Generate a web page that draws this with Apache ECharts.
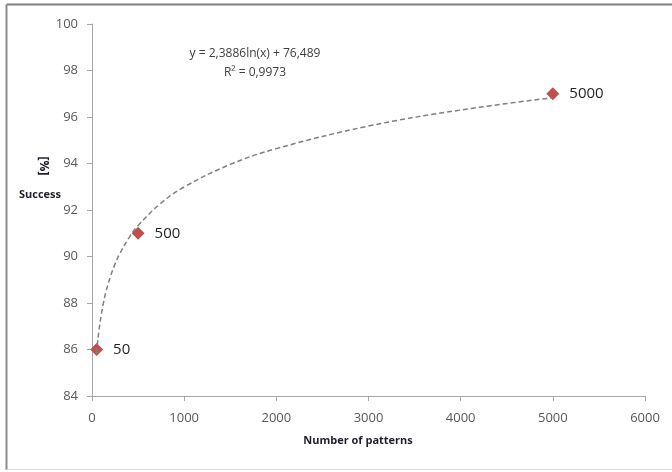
<!DOCTYPE html>
<html>
<head>
<meta charset="utf-8">
<script src="https://cdn.jsdelivr.net/npm/echarts@6/dist/echarts.min.js"></script>
<style>html,body{margin:0;padding:0;background:#fff}#c{width:672px;height:472px}</style>
</head>
<body>
<div id="c"></div>
<script>
// Data points (number of patterns, success %)
const patterns = [50, 500, 5000];
const success = [86, 91, 97];
const pointLabels = ['50', '500', '5000'];
// Trendline values (log trend)
const trendX = [50, 60, 75, 100, 125, 150, 200, 250, 300, 400, 500, 750, 1000, 1500, 2000, 3000, 4000, 5000];
const trendY = [85.83, 86.27, 86.80, 87.49, 88.02, 88.46, 89.14, 89.68, 90.11, 90.80, 91.33, 92.30, 92.99, 93.96, 94.64, 95.61, 96.30, 96.83];
const xTicks = [0, 1000, 2000, 3000, 4000, 5000, 6000];
const yTicks = [84, 86, 88, 90, 92, 94, 96, 98, 100];
const equationText = 'y = 2,3886ln(x) + 76,489';
const r2Text = 'R² = 0,9973';

const chart = echarts.init(document.getElementById('c'));
const font = 'Open Sans, Liberation Sans, sans-serif';
chart.setOption({
  animation: false,
  backgroundColor: '#fff',
  grid: {left: 92, right: 27, top: 24, bottom: 76},
  xAxis: {
    type: 'value', min: xTicks[0], max: xTicks[xTicks.length-1], interval: 1000,
    splitLine: {show: false},
    axisLine: {lineStyle: {color: '#a6a6a6'}},
    axisTick: {show: true, length: 5, lineStyle: {color: '#a6a6a6'}},
    axisLabel: {color: '#595959', fontFamily: font, fontSize: 13, margin: 16, formatter: v => String(v)}
  },
  yAxis: {
    type: 'value', min: yTicks[0], max: yTicks[yTicks.length-1], interval: 2,
    splitLine: {show: false},
    axisLine: {show: true, lineStyle: {color: '#a6a6a6'}},
    axisTick: {show: true, length: 5, lineStyle: {color: '#a6a6a6'}},
    axisLabel: {color: '#595959', fontFamily: font, fontSize: 13, margin: 14}
  },
  graphic: [
    {type: 'line', shape: {x1: 6.5, y1: 4.5, x2: 672, y2: 4.5}, style: {stroke: '#7f7f7f', lineWidth: 2}},
    {type: 'line', shape: {x1: 6.5, y1: 4.5, x2: 6.5, y2: 470}, style: {stroke: '#8c8c8c', lineWidth: 2}},
    {type: 'line', shape: {x1: 6.5, y1: 469.5, x2: 672, y2: 469.5}, style: {stroke: '#d9d9d9', lineWidth: 1}},
    {type: 'text', x: 255, y: 54, style: {text: equationText, fill: '#404040', font: '12px ' + font, align: 'center', verticalAlign: 'middle'}},
    {type: 'text', x: 255, y: 73, style: {text: r2Text, fill: '#404040', font: '12px ' + font, align: 'center', verticalAlign: 'middle'}},
    {type: 'text', x: 358, y: 441, style: {text: 'Number of patterns', fill: '#1f1f2f', font: 'bold 11px ' + font, align: 'center', verticalAlign: 'middle'}},
    {type: 'text', x: 40, y: 195, style: {text: 'Success', fill: '#1f1f2f', font: 'bold 11px ' + font, align: 'center', verticalAlign: 'middle'}},
    {type: 'text', x: 43, y: 166, rotation: -Math.PI/2, style: {text: '[%]', fill: '#1f1f2f', font: 'bold 12px ' + font, align: 'center', verticalAlign: 'middle'}}
  ],
  series: [
    {
      type: 'line', smooth: 0.4, symbol: 'none', silent: true,
      data: trendX.map((x, i) => [x, trendY[i]]),
      lineStyle: {color: '#7f7f7f', width: 1.5, type: [5, 3]}
    },
    {
      type: 'scatter', symbol: 'diamond', symbolSize: 13,
      data: patterns.map((x, i) => [x, success[i]]),
      itemStyle: {color: '#c0504d', opacity: 1},
      label: {show: true, position: 'right', distance: 10, formatter: p => pointLabels[p.dataIndex], color: '#262626', fontFamily: font, fontSize: 15}
    }
  ]
});
</script>
</body>
</html>
